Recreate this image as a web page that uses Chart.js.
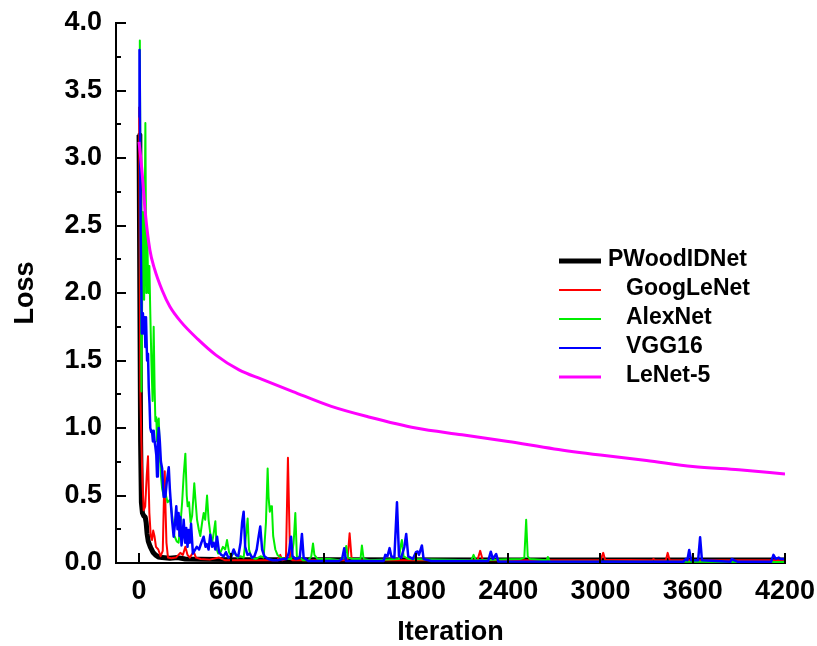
<!DOCTYPE html>
<html><head><meta charset="utf-8">
<script src="https://cdn.jsdelivr.net/npm/chart.js@4/dist/chart.umd.min.js"></script>
<style>html,body{margin:0;padding:0;background:#fff;}#wrap{width:817px;height:646px;}</style>
</head><body><div id="wrap"><canvas id="c" width="817" height="646"></canvas></div>
<script>
const seriesNames = ['PWoodIDNet', 'GoogLeNet', 'AlexNet', 'VGG16', 'LeNet-5'];
const xTickValues = [0, 600, 1200, 1800, 2400, 3000, 3600, 4200];
const yTickValues = [0, 0.5, 1.0, 1.5, 2.0, 2.5, 3.0, 3.5, 4.0];
const yMinorTickValues = [0.25, 0.75, 1.25, 1.75, 2.25, 2.75, 3.25, 3.75];

const pwoodIter = [0, 5, 10, 15, 22, 30, 40, 46, 52, 60, 73, 90, 106, 125, 150, 200, 250, 300, 400, 600, 1200, 2400, 3600, 4200];
const pwoodLoss = [3.17, 2.0, 0.9, 0.45, 0.37, 0.35, 0.34, 0.3, 0.22, 0.16, 0.12, 0.08, 0.06, 0.045, 0.04, 0.035, 0.04, 0.03, 0.027, 0.025, 0.024, 0.023, 0.023, 0.023];

const googIter = [0, 8, 15, 22, 30, 40, 50, 58, 67, 76, 84, 92, 100, 110, 125, 140, 154, 162, 167, 172, 178, 188, 210, 240, 268, 285, 301, 315, 330, 355, 370, 400, 460, 520, 560, 900, 918, 930, 955, 968, 982, 1000, 1355, 1369, 1382, 1420, 2200, 2218, 2235, 3000, 3018, 3030, 3336, 3345, 3355, 3425, 3437, 3450, 4200];
const googLoss = [3.38, 1.28, 0.9, 0.6, 0.39, 0.42, 0.65, 0.79, 0.37, 0.2, 0.17, 0.24, 0.2, 0.12, 0.1, 0.05, 0.09, 0.5, 0.68, 0.4, 0.15, 0.04, 0.035, 0.04, 0.075, 0.06, 0.12, 0.06, 0.04, 0.085, 0.04, 0.03, 0.025, 0.04, 0.02, 0.02, 0.06, 0.02, 0.03, 0.78, 0.03, 0.02, 0.02, 0.22, 0.03, 0.02, 0.02, 0.09, 0.02, 0.02, 0.075, 0.025, 0.02, 0.03, 0.02, 0.02, 0.075, 0.02, 0.02];

const alexIter = [0, 5, 15, 25, 33, 41, 47, 53, 60, 67, 73, 80, 88, 95, 101, 106, 112, 117, 122, 128, 135, 142, 150, 160, 171, 185, 203, 215, 230, 245, 257, 270, 280, 290, 301, 310, 316, 325, 335, 345, 359, 368, 377, 388, 398, 410, 420, 430, 442, 452, 465, 475, 485, 496, 505, 515, 530, 545, 560, 572, 585, 600, 620, 640, 660, 680, 695, 706, 715, 730, 760, 790, 810, 825, 836, 842, 850, 858, 864, 872, 886, 900, 920, 950, 990, 1005, 1016, 1026, 1050, 1065, 1100, 1120, 1131, 1140, 1160, 1240, 1300, 1335, 1347, 1358, 1390, 1440, 1449, 1460, 1500, 1690, 1700, 1709, 1720, 1750, 2160, 2175, 2190, 2480, 2505, 2517, 2527, 2540, 2650, 2658, 2670, 4200];
const alexLoss = [3.3, 3.87, 1.27, 2.6, 1.95, 3.26, 2.0, 2.45, 2.0, 2.2, 1.85, 1.5, 1.2, 1.75, 1.3, 1.05, 1.08, 0.9, 1.05, 1.07, 0.8, 0.65, 0.55, 0.5, 0.52, 0.45, 0.47, 0.35, 0.2, 0.16, 0.15, 0.3, 0.45, 0.65, 0.81, 0.5, 0.42, 0.45, 0.3, 0.35, 0.59, 0.45, 0.32, 0.25, 0.2, 0.3, 0.37, 0.32, 0.5, 0.32, 0.2, 0.15, 0.22, 0.31, 0.1, 0.07, 0.08, 0.12, 0.1, 0.17, 0.08, 0.05, 0.08, 0.04, 0.05, 0.04, 0.2, 0.33, 0.1, 0.04, 0.03, 0.05, 0.04, 0.3, 0.70, 0.49, 0.38, 0.42, 0.41, 0.2, 0.1, 0.06, 0.04, 0.03, 0.03, 0.15, 0.37, 0.05, 0.04, 0.02, 0.02, 0.05, 0.145, 0.06, 0.03, 0.03, 0.02, 0.04, 0.126, 0.04, 0.03, 0.03, 0.13, 0.03, 0.02, 0.03, 0.12, 0.17, 0.05, 0.03, 0.02, 0.06, 0.02, 0.03, 0.04, 0.32, 0.05, 0.03, 0.02, 0.045, 0.012, 0.008];

const vggIter = [0, 3, 10, 18, 25, 30, 36, 41, 45, 52, 58, 63, 68, 73, 79, 84, 90, 95, 101, 106, 112, 117, 122, 128, 135, 142, 150, 160, 171, 180, 193, 200, 208, 216, 225, 234, 242, 250, 257, 263, 268, 276, 283, 290, 300, 307, 315, 322, 330, 338, 350, 360, 375, 390, 405, 420, 432, 440, 452, 463, 475, 485, 496, 507, 520, 535, 550, 565, 580, 600, 615, 630, 645, 660, 670, 680, 690, 705, 720, 735, 750, 765, 778, 788, 800, 815, 840, 870, 900, 940, 960, 975, 988, 998, 1020, 1045, 1059, 1070, 1100, 1300, 1320, 1334, 1345, 1590, 1601, 1615, 1629, 1640, 1660, 1677, 1690, 1705, 1725, 1737, 1750, 1780, 1800, 1811, 1820, 1839, 1850, 1900, 2270, 2287, 2300, 2322, 2335, 3540, 3555, 3565, 3577, 3590, 3635, 3648, 3660, 3845, 3854, 3870, 3890, 4110, 4125, 4140, 4160, 4170, 4200];
const vggLoss = [3.3, 3.8, 2.5, 1.7, 1.85, 1.7, 1.82, 1.6, 1.82, 1.5, 1.55, 1.3, 1.18, 1.0, 0.97, 0.98, 0.9, 0.98, 0.9, 0.86, 0.8, 0.64, 0.9, 1.0, 0.9, 0.75, 0.7, 0.49, 0.49, 0.6, 0.71, 0.55, 0.42, 0.3, 0.195, 0.3, 0.42, 0.25, 0.37, 0.2, 0.34, 0.13, 0.2, 0.32, 0.15, 0.26, 0.12, 0.245, 0.15, 0.29, 0.07, 0.09, 0.12, 0.1, 0.15, 0.195, 0.12, 0.14, 0.1, 0.21, 0.12, 0.15, 0.1, 0.195, 0.08, 0.06, 0.05, 0.08, 0.04, 0.05, 0.1, 0.06, 0.05, 0.15, 0.3, 0.38, 0.12, 0.06, 0.07, 0.04, 0.05, 0.1, 0.2, 0.27, 0.1, 0.05, 0.03, 0.02, 0.02, 0.03, 0.03, 0.08, 0.195, 0.05, 0.03, 0.04, 0.215, 0.04, 0.015, 0.015, 0.03, 0.11, 0.015, 0.015, 0.06, 0.05, 0.11, 0.05, 0.04, 0.45, 0.05, 0.04, 0.12, 0.215, 0.05, 0.03, 0.08, 0.085, 0.06, 0.13, 0.03, 0.015, 0.015, 0.084, 0.03, 0.067, 0.012, 0.01, 0.03, 0.02, 0.096, 0.02, 0.02, 0.19, 0.02, 0.01, 0.03, 0.02, 0.01, 0.01, 0.06, 0.03, 0.04, 0.03, 0.03];

const lenetIter = [0, 20, 40, 70, 100, 150, 200, 270, 380, 500, 650, 800, 1000, 1250, 1500, 1800, 2100, 2400, 2700, 3000, 3300, 3600, 3900, 4200];
const lenetLoss = [3.12, 2.89, 2.6, 2.32, 2.18, 2.02, 1.9, 1.79, 1.66, 1.54, 1.43, 1.36, 1.27, 1.16, 1.08, 1.0, 0.95, 0.9, 0.845, 0.8, 0.76, 0.715, 0.69, 0.66];

const seriesColors = ['#000000', '#ff0000', '#00ee00', '#0000ff', '#ff00ff'];
const seriesWidths = [5, 2, 2, 2.5, 3];

function pts(xs, ys) { return xs.map((x, i) => ({x: x, y: ys[i]})); }

const FONT = "'Liberation Sans', Arial, Helvetica, sans-serif";

const inwardTicks = {
  id: 'inwardTicks',
  afterDatasetsDraw(chart) {
    const ctx = chart.ctx, xs = chart.scales.x, ys = chart.scales.y;
    const a = chart.chartArea;
    ctx.save();
    ctx.strokeStyle = '#000';
    ctx.lineWidth = 2;
    ctx.beginPath();
    yTickValues.forEach(v => { const p = Math.round(ys.getPixelForValue(v)); ctx.moveTo(a.left, p); ctx.lineTo(a.left + 10, p); });
    yMinorTickValues.forEach(v => { const p = Math.round(ys.getPixelForValue(v)); ctx.moveTo(a.left, p); ctx.lineTo(a.left + 5, p); });
    xTickValues.forEach(v => { const p = Math.round(xs.getPixelForValue(v)); ctx.moveTo(p, a.bottom); ctx.lineTo(p, a.bottom - 10); });
    ctx.stroke();
    ctx.restore();
  }
};

const legendRows = [261, 290, 319, 348, 377];
const customLegend = {
  id: 'customLegend',
  afterDraw(chart) {
    const ctx = chart.ctx;
    ctx.save();
    ctx.font = 'bold 23px ' + FONT;
    ctx.textBaseline = 'middle';
    ctx.textAlign = 'left';
    chart.data.datasets.forEach((ds, i) => {
      const y = legendRows[i];
      ctx.strokeStyle = ds.borderColor;
      ctx.lineWidth = i === 0 ? 5 : (i === 4 ? 3 : 2);
      ctx.beginPath(); ctx.moveTo(559, y); ctx.lineTo(601, y); ctx.stroke();
      ctx.fillStyle = '#000';
      ctx.fillText(ds.label, i === 0 ? 608 : 626, y - 1);
    });
    ctx.restore();
  }
};

const datasets = [
  {label: seriesNames[0], data: pts(pwoodIter, pwoodLoss), order: 5},
  {label: seriesNames[1], data: pts(googIter, googLoss), order: 4},
  {label: seriesNames[2], data: pts(alexIter, alexLoss), order: 3},
  {label: seriesNames[3], data: pts(vggIter, vggLoss), order: 2},
  {label: seriesNames[4], data: pts(lenetIter, lenetLoss), order: 1, cubicInterpolationMode: 'monotone'}
].map((d, i) => Object.assign(d, {borderColor: seriesColors[i], backgroundColor: seriesColors[i], borderWidth: seriesWidths[i], pointRadius: 0, fill: false, tension: 0, borderJoinStyle: 'round'}));

new Chart(document.getElementById('c'), {
  type: 'line',
  data: {datasets: datasets},
  plugins: [inwardTicks, customLegend],
  options: {
    responsive: false,
    devicePixelRatio: 1,
    animation: false,
    layout: {padding: {top: 23, right: 32, left: 0, bottom: 0}},
    plugins: {legend: {display: false}, tooltip: {enabled: false}},
    scales: {
      x: {
        type: 'linear', min: -150, max: 4200,
        afterBuildTicks: s => { s.ticks = xTickValues.map(v => ({value: v})); },
        afterFit: s => { s.height = 83; s.paddingLeft = 0; s.paddingRight = 0; },
        grid: {display: false, drawTicks: false},
        border: {display: true, color: '#000', width: 2},
        ticks: {color: '#000', padding: 12, maxRotation: 0, autoSkip: false, font: {family: FONT, size: 27, weight: 'bold', lineHeight: 1.2}, callback: v => String(v)},
        title: {display: true, text: 'Iteration', color: '#000', padding: {top: 0, bottom: 0}, font: {family: FONT, size: 27, weight: 'bold', lineHeight: 1}}
      },
      y: {
        type: 'linear', min: 0, max: 4,
        afterBuildTicks: s => { s.ticks = yTickValues.map(v => ({value: v})); },
        afterFit: s => { s.width = 116; s.paddingTop = 0; s.paddingBottom = 0; },
        grid: {display: false, drawTicks: false},
        border: {display: true, color: '#000', width: 2},
        ticks: {color: '#000', padding: 14, autoSkip: false, font: {family: FONT, size: 27, weight: 'bold'}, callback: v => v.toFixed(1)},
        title: {display: true, text: 'Loss', color: '#000', padding: {top: 12, bottom: 0}, font: {family: FONT, size: 27, weight: 'bold', lineHeight: 1}}
      }
    }
  }
});
</script></body></html>
